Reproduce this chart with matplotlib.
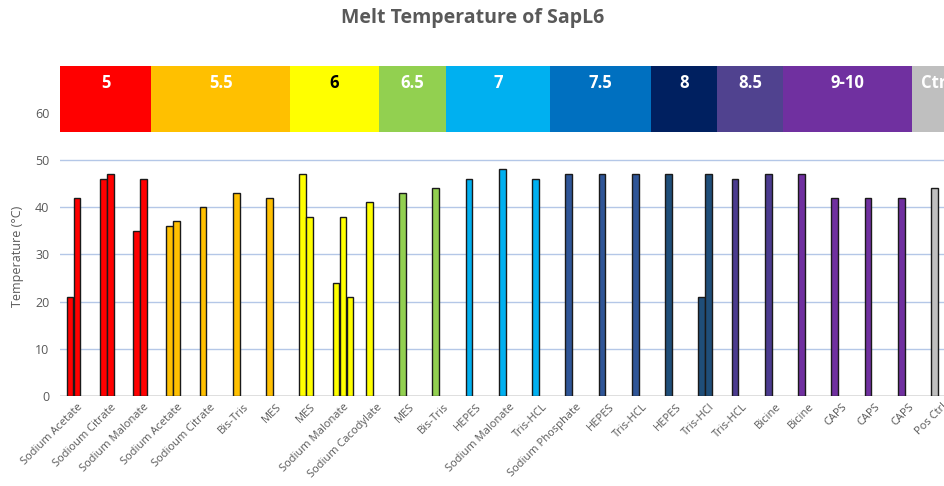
import numpy as np
import matplotlib
matplotlib.use("Agg")
import matplotlib.pyplot as plt

plt.rcParams['font.family'] = ['Open Sans', 'DejaVu Sans']

# buffer names along the x axis
categories = ["Sodium Acetate", "Sodioum Citrate", "Sodium Malonate",
              "Sodium Acetate", "Sodioum Citrate", "Bis-Tris", "MES",
              "MES", "Sodium Malonate", "Sodium Cacodylate",
              "MES", "Bis-Tris",
              "HEPES", "Sodium Malonate", "Tris-HCL",
              "Sodium Phosphate", "HEPES", "Tris-HCL",
              "HEPES", "Tris-HCl",
              "Tris-HCL", "Bicine",
              "Bicine", "CAPS", "CAPS", "CAPS",
              "Pos Ctrl"]

# melt temperatures (replicates), nan = no replicate
rep1 = [21, 46, 35, 36, 40, 43, 42, 47, 24, 41, 43, 44, 46, 48, 46,
        47, 47, 47, 47, 21, 46, 47, 47, 42, 42, 42, 44]
rep2 = [42, 47, 46, 37, np.nan, np.nan, np.nan, 38, 38, np.nan, np.nan, np.nan,
        np.nan, np.nan, np.nan, np.nan, np.nan, np.nan, np.nan, 47, np.nan,
        np.nan, np.nan, np.nan, np.nan, np.nan, np.nan]
rep3 = [np.nan] * 8 + [21] + [np.nan] * 18

# bar colour for each buffer
bar_colors = ["#FF0000"] * 3 + ["#FFC000"] * 4 + ["#FFFF00"] * 3 + \
             ["#92D050"] * 2 + ["#00B0F0"] * 3 + ["#2F5597"] * 3 + \
             ["#1F4E79"] * 2 + ["#4B3B8F"] * 2 + ["#7030A0"] * 4 + ["#BFBFBF"]

# pH header band
ph_labels = ["5", "5.5", "6", "6.5", "7", "7.5", "8", "8.5", "9-10", "Ctrl"]
ph_colors = ["#FF0000", "#FFC000", "#FFFF00", "#92D050", "#00B0F0",
             "#0070C0", "#002060", "#50428F", "#7030A0", "#BFBFBF"]
ph_text = ["white", "white", "black", "white", "white",
           "white", "white", "white", "white", "white"]
ph_edges = [-0.51, 2.23, 6.41, 9.08, 11.10, 14.23, 17.26, 19.25, 21.23, 25.11, 26.6]

fig = plt.figure(figsize=(9.45, 4.86), dpi=100)
ax = fig.add_axes([0.0639, 0.1852, 0.950, 0.680])

x = np.arange(len(categories))
w = 0.2
step = 0.21
for off, vals in [(-step, rep1), (0, rep2), (step, rep3)]:
    ax.bar(x + off, vals, width=w, color=bar_colors, edgecolor="#1a1a1a",
           linewidth=1.0, zorder=3)

# header band with pH labels
for i, lab in enumerate(ph_labels):
    x0, x1 = ph_edges[i], ph_edges[i + 1]
    ax.axvspan(x0, x1, ymin=56 / 70, ymax=1, color=ph_colors[i], lw=0, zorder=4)
    ax.text((x0 + x1) / 2, 66.3, lab, ha="center", va="center",
            fontsize=12, fontweight="bold", color=ph_text[i], zorder=5,
            clip_on=False)

ax.set_xlim(-0.5, 26.5)
ax.set_ylim(0, 70)
ax.set_yticks(range(0, 61, 10))
for y in range(10, 51, 10):
    ax.axhline(y, color="#B4C7E7", lw=1.0, zorder=1)
ax.axhline(0, color="#D9D9D9", lw=1.2, zorder=2)

for s in ax.spines.values():
    s.set_visible(False)
ax.tick_params(axis="both", length=0, colors="#595959")
ax.tick_params(axis="y", labelsize=9, pad=8)
ax.set_xticks(x)
ax.set_xticklabels(categories, rotation=45, ha="right", va="top",
                   rotation_mode="anchor", fontsize=8)
ax.tick_params(axis="x", pad=4)

fig.text(0.018, 0.473, "Temperature (°C)", rotation=90, ha="center",
         va="center", fontsize=9, color="#595959")
fig.text(0.5, 0.963, "Melt Temperature of SapL6", ha="center", va="center",
         fontsize=14, fontweight="bold", color="#595959")

fig.savefig("out.png", dpi=100)
